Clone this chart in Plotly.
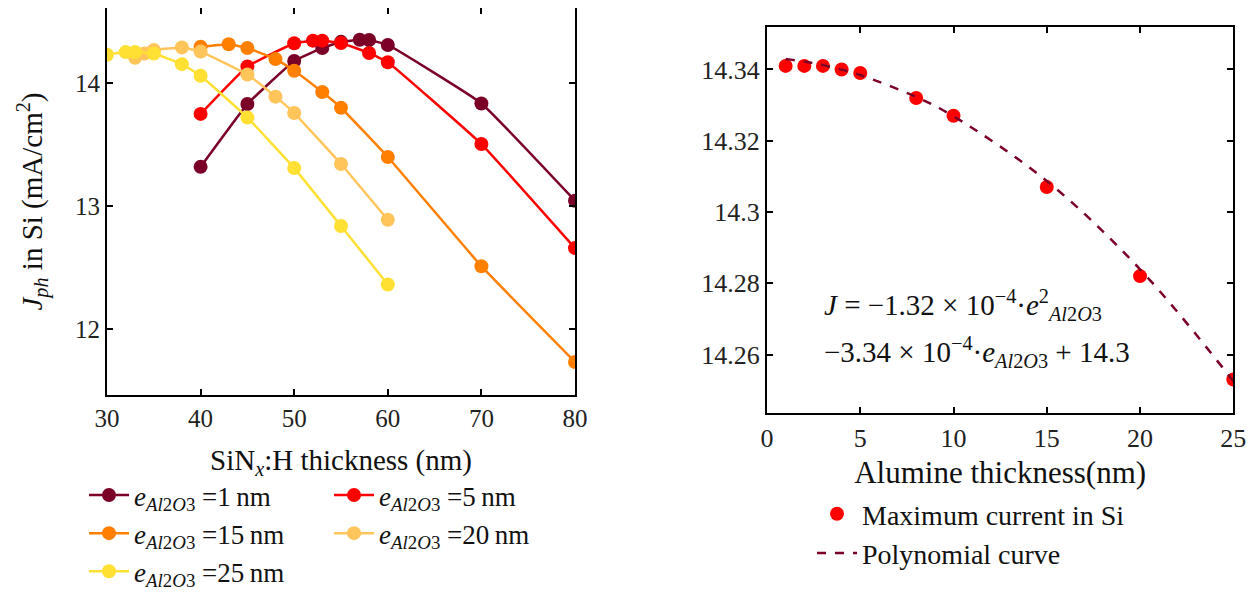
import plotly.graph_objects as go

# ---------------- data (left panel) ----------------
labels_left = ["1", "5", "15", "20", "25"]
colors_left = ["#7b0028", "#ff0000", "#ff8000", "#ffc55a", "#ffe033"]
legend_slot = ["legend", "legend2", "legend", "legend2", "legend"]

x_1nm = [40, 45, 50, 53, 55, 57, 58, 60, 70, 80]
y_1nm = [13.32, 13.83, 14.18, 14.285, 14.335, 14.352, 14.350, 14.310, 13.835, 13.045]

x_5nm = [40, 45, 50, 52, 53, 55, 58, 60, 70, 80]
y_5nm = [13.75, 14.135, 14.324, 14.345, 14.345, 14.326, 14.245, 14.170, 13.505, 12.660]

x_15nm = [40, 43, 45, 48, 50, 53, 55, 60, 70, 80]
y_15nm = [14.295, 14.316, 14.285, 14.195, 14.100, 13.927, 13.800, 13.400, 12.513, 11.735]

x_20nm = [33, 34, 35, 38, 40, 45, 48, 50, 55, 60]
y_20nm = [14.205, 14.240, 14.268, 14.290, 14.256, 14.070, 13.890, 13.757, 13.343, 12.890]

x_25nm = [30, 32, 33, 35, 38, 40, 45, 50, 55, 60]
y_25nm = [14.230, 14.252, 14.252, 14.240, 14.154, 14.060, 13.720, 13.310, 12.840, 12.365]

# ---------------- data (right panel) ----------------
e_al2o3 = [1, 2, 3, 4, 5, 8, 10, 15, 20, 25]
j_max = [14.341, 14.341, 14.341, 14.340, 14.339, 14.332, 14.327, 14.307, 14.282, 14.253]

# coefficients shown in the chart annotation (constant unrounded)
coef_a = -1.32e-4
coef_b = -3.34e-4
coef_c = 14.3434

series_x = [x_1nm, x_5nm, x_15nm, x_20nm, x_25nm]
series_y = [y_1nm, y_5nm, y_15nm, y_20nm, y_25nm]

FONT = "Liberation Serif"
sub = "<i>e</i><sub><i>Al</i>2<i>O</i>3</sub>"

# page body has an 8px margin: size the figure so it fits the window
OFF = 8
W, H = 1255 - OFF, 592 - OFF


def px(x):
    return (x - OFF) / W


def py(y):
    return 1 - (y - OFF) / H


fig = go.Figure()

for xs, ys, lab, col, lg in zip(series_x, series_y, labels_left, colors_left, legend_slot):
    fig.add_trace(go.Scatter(
        x=xs, y=ys, mode="lines+markers",
        line=dict(color=col, width=2.5, shape="spline", smoothing=0.3),
        marker=dict(color=col, size=14),
        name=f"{sub} ={lab}\u2009nm",
        legend=lg, xaxis="x", yaxis="y",
    ))

fig.add_trace(go.Scatter(
    x=e_al2o3, y=j_max, mode="markers",
    marker=dict(color="#ff0000", size=14),
    name="Maximum current in Si",
    legend="legend3", xaxis="x2", yaxis="y2",
))

poly_y = [coef_a * e * e + coef_b * e + coef_c for e in e_al2o3]
fig.add_trace(go.Scatter(
    x=e_al2o3, y=poly_y, mode="lines",
    line=dict(color="#7b0028", width=2.5, dash="dash", shape="spline"),
    name="Polynomial curve",
    legend="legend3", xaxis="x2", yaxis="y2",
))


def axis_common(size):
    return dict(
        showline=True, linecolor="black", linewidth=2, mirror="ticks",
        ticks="inside", ticklen=6, tickwidth=1.5, tickcolor="black",
        showgrid=False, zeroline=False, automargin=False,
        tickfont=dict(family=FONT, size=size, color="#222"),
    )


leg_common = dict(xanchor="left", yanchor="top", tracegroupgap=0,
                  bgcolor="rgba(0,0,0,0)", itemwidth=40, orientation="v")

fig.update_layout(
    width=W, height=H,
    margin=dict(l=0, r=0, t=0, b=0, autoexpand=False),
    paper_bgcolor="white", plot_bgcolor="white",
    font=dict(family=FONT, color="#111"),
    xaxis=dict(domain=[px(107), px(575)], range=[30, 80], dtick=10,
               anchor="y",
               title=dict(text="SiN<sub><i>x</i></sub>:H thickness (nm)",
                          font=dict(family=FONT, size=29), standoff=19),
               **axis_common(25)),
    yaxis=dict(domain=[py(395), py(8)], range=[11.467, 14.61], dtick=1,
               anchor="x",
               title=dict(text="<i>J</i><sub><i>ph</i></sub> in Si (mA/cm<sup>2</sup>)",
                          font=dict(family=FONT, size=29), standoff=24),
               **axis_common(25)),
    xaxis2=dict(domain=[px(767), px(1233.3)], range=[0, 25], dtick=5,
                anchor="y2",
                title=dict(text="Alumine thickness(nm)",
                           font=dict(family=FONT, size=31), standoff=10),
                **axis_common(26)),
    yaxis2=dict(domain=[py(413.3), py(26.7)], range=[14.2435, 14.352],
                dtick=0.02, anchor="x2",
                **axis_common(26)),
    legend=dict(x=px(84), y=py(471), font=dict(family=FONT, size=27), **leg_common),
    legend2=dict(x=px(329), y=py(471), font=dict(family=FONT, size=27), **leg_common),
    legend3=dict(x=px(812), y=py(489), font=dict(family=FONT, size=28), **leg_common),
    showlegend=True,
)

fig.add_annotation(
    xref="paper", yref="paper", x=px(822), y=py(305),
    xanchor="left", yanchor="middle", showarrow=False, align="left",
    text="<i>J</i> = \u22121.32 \u00d7 10<sup>\u22124</sup>\u00b7<i>e</i><sup>2</sup><sub><i>Al</i>2<i>O</i>3</sub>",
    font=dict(family=FONT, size=29, color="#111"),
)
fig.add_annotation(
    xref="paper", yref="paper", x=px(822), y=py(352),
    xanchor="left", yanchor="middle", showarrow=False, align="left",
    text="\u22123.34 \u00d7 10<sup>\u22124</sup>\u00b7<i>e</i><sub><i>Al</i>2<i>O</i>3</sub> + 14.3",
    font=dict(family=FONT, size=29, color="#111"),
)

fig.write_html("out.html")
